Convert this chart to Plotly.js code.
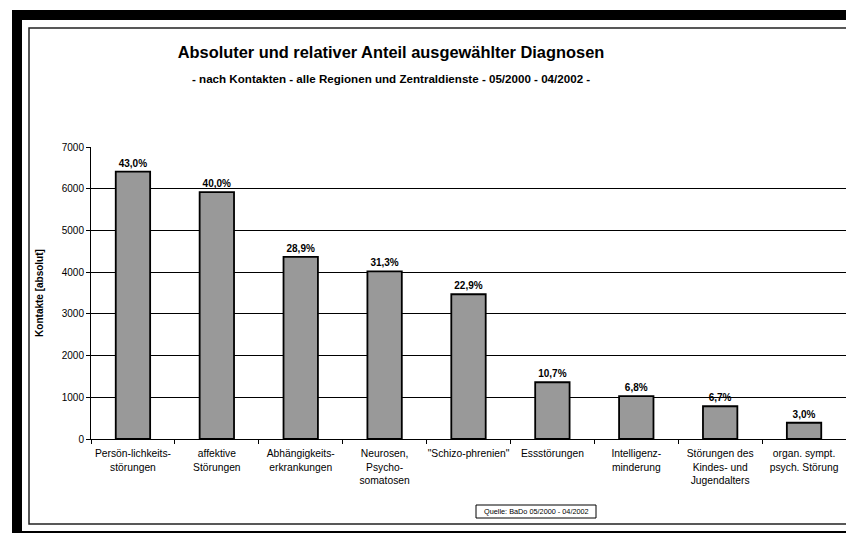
<!DOCTYPE html>
<html>
<head>
<meta charset="utf-8">
<script src="https://cdn.plot.ly/plotly-3.0.1.min.js"></script>
<style>html,body{margin:0;padding:0;background:#fff;}#chart{width:846px;height:533px;}</style>
</head>
<body>
<div id="chart"></div>
<script>
const categories = [
  "Persön-lichkeits-<br>störungen",
  "affektive<br>Störungen",
  "Abhängigkeits-<br>erkrankungen",
  "Neurosen,<br>Psycho-<br>somatosen",
  "\"Schizo-phrenien\"",
  "Essstörungen",
  "Intelligenz-<br>minderung",
  "Störungen des<br>Kindes- und<br>Jugendalters",
  "organ. sympt.<br>psych. Störung"
];
const kontakte = [6410, 5920, 4365, 4020, 3470, 1360, 1030, 785, 390];
const anteil = ["43,0%", "40,0%", "28,9%", "31,3%", "22,9%", "10,7%", "6,8%", "6,7%", "3,0%"];
const yTicks = [0, 1000, 2000, 3000, 4000, 5000, 6000, 7000];

const W = 846, H = 533;
const L = 91, R = 846, T = 147, B = 439;
const px = x => (x - L) / (R - L);
const py = y => (B - y) / (B - T);

const FONT = "Liberation Sans, Arial, sans-serif";

const trace = {
  type: "bar",
  x: categories,
  y: kontakte,
  text: anteil,
  textposition: "outside",
  cliponaxis: false,
  textfont: {family: FONT, size: 10, color: "#000", weight: "bold"},
  marker: {color: "#999999", line: {color: "#000", width: 1.8}},
  hoverinfo: "none"
};

const layout = {
  width: W, height: H,
  margin: {l: L, r: W - R, t: T, b: H - B},
  paper_bgcolor: "#fff",
  plot_bgcolor: "#fff",
  showlegend: false,
  bargap: 0.59,
  font: {family: FONT, size: 10, color: "#000"},
  title: {
    text: "<b>Absoluter und relativer Anteil ausgewählter Diagnosen</b>",
    font: {family: FONT, size: 16.4, color: "#000"},
    xref: "paper", x: px(391), xanchor: "center",
    yref: "container", y: 1 - 52 / H, yanchor: "middle"
  },
  xaxis: {
    type: "category",
    showline: true, linecolor: "#000", linewidth: 1,
    ticks: "outside", ticklen: 4, tickcolor: "#000", tickson: "boundaries",
    tickangle: 0, ticklabelstandoff: 5,
    tickfont: {family: FONT, size: 10.3, color: "#000"},
    showgrid: false, fixedrange: true
  },
  yaxis: {
    range: [0, 7000],
    tickvals: yTicks,
    ticktext: yTicks.map(String),
    showline: true, linecolor: "#000", linewidth: 1,
    ticks: "outside", ticklen: 4, tickcolor: "#000",
    tickfont: {family: FONT, size: 10, color: "#000"},
    showgrid: true, gridcolor: "#000", gridwidth: 1,
    zeroline: false,
    title: {text: "<b>Kontakte [absolut]</b>", font: {family: FONT, size: 10, color: "#000"}, standoff: 16},
    fixedrange: true
  },
  annotations: [
    {
      text: "<b>- nach Kontakten - alle Regionen und Zentraldienste - 05/2000 - 04/2002 -</b>",
      xref: "paper", yref: "paper", x: px(391), y: py(78),
      xanchor: "center", yanchor: "middle", showarrow: false,
      font: {family: FONT, size: 11.6, color: "#000"}
    },
    {
      text: "Quelle: BaDo 05/2000 - 04/2002",
      xref: "paper", yref: "paper", x: px(536), y: py(511.5),
      xanchor: "center", yanchor: "middle", showarrow: false,
      font: {family: FONT, size: 7.3, color: "#000"}
    }
  ],
  shapes: [
    {type: "rect", xref: "paper", yref: "paper", x0: px(12), x1: px(860), y0: py(10), y1: py(20), fillcolor: "#000", line: {width: 0}, layer: "above"},
    {type: "rect", xref: "paper", yref: "paper", x0: px(12), x1: px(22), y0: py(10), y1: py(540), fillcolor: "#000", line: {width: 0}, layer: "above"},
    {type: "rect", xref: "paper", yref: "paper", x0: px(12), x1: px(860), y0: py(531), y1: py(540), fillcolor: "#000", line: {width: 0}, layer: "above"},
    {type: "rect", xref: "paper", yref: "paper", x0: px(29), x1: px(900), y0: py(28), y1: py(524), fillcolor: "rgba(0,0,0,0)", line: {color: "#222", width: 1.5}, layer: "above"},
    {type: "rect", xref: "paper", yref: "paper", x0: px(476), x1: px(596), y0: py(505), y1: py(518), fillcolor: "rgba(0,0,0,0)", line: {color: "#000", width: 1}, layer: "above"}
  ]
};

Plotly.newPlot("chart", [trace], layout, {displayModeBar: false, staticPlot: true});
</script>
</body>
</html>
